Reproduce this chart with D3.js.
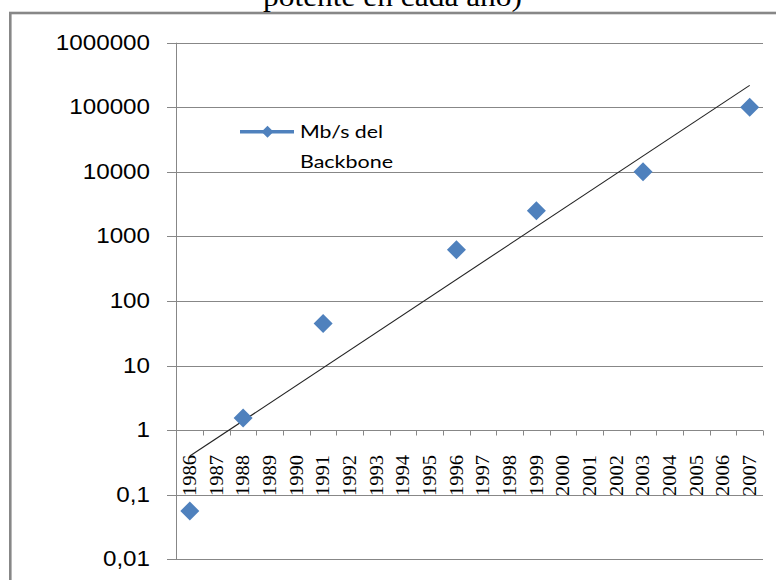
<!DOCTYPE html>
<html>
<head>
<meta charset="utf-8">
<script src="https://cdn.jsdelivr.net/npm/d3@7"></script>
<style>
  html, body { margin: 0; padding: 0; background: #fff; }
  svg { display: block; }
</style>
</head>
<body>
<svg id="chart" width="776" height="580"></svg>
<script>
// Backbone speed (Mb/s) by year; blank years have no measurement
const years = ["1986","1987","1988","1989","1990","1991","1992","1993","1994","1995","1996",
               "1997","1998","1999","2000","2001","2002","2003","2004","2005","2006","2007"];
const backboneMbps = [0.056, null, 1.544, null, null, 45, null, null, null, null, 622,
                      null, null, 2488, null, null, null, 10000, null, null, null, 100000];
const yTicks = [0.01, 0.1, 1, 10, 100, 1000, 10000, 100000, 1000000];
const yTickLabels = ["0,01", "0,1", "1", "10", "100", "1000", "10000", "100000", "1000000"];
const seriesName = ["Mb/s del", "Backbone"];
const titleTail = "potente en cada año)";

const svg = d3.select("#chart");
const gridColor = "#878787";
const blue = "#4F81BD";

const x = d3.scaleBand().domain(years).range([176.5, 763]);
const y = d3.scaleLog().domain([0.01, 1000000]).range([559.3, 42.7]);

// outer chart frame
svg.append("rect")
  .attr("x", 10.3).attr("y", 13).attr("width", 820).attr("height", 620)
  .attr("fill", "none").attr("stroke", gridColor).attr("stroke-width", 2.6);

// title (last line only)
svg.append("text")
  .attr("x", 263).attr("y", 5.5)
  .attr("font-family", "'Liberation Serif', 'Times New Roman', serif")
  .attr("font-size", 27)
  .attr("textLength", 259).attr("lengthAdjust", "spacingAndGlyphs")
  .attr("fill", "#000")
  .text(titleTail);

// horizontal gridlines + y ticks
const gy = svg.append("g");
yTicks.forEach((t, i) => {
  const yy = Math.round(y(t)) + 0.5;
  gy.append("line")
    .attr("x1", 167).attr("x2", 763).attr("y1", yy).attr("y2", yy)
    .attr("stroke", gridColor).attr("stroke-width", 1);
  gy.append("g")
    .attr("transform", `translate(150,${y(t) + 7}) scale(1.1,1)`)
    .append("text")
      .attr("text-anchor", "end")
      .attr("font-family", "'Liberation Sans', Arial, sans-serif")
      .attr("font-size", 22)
      .attr("fill", "#000")
      .text(yTickLabels[i]);
});

// vertical axis
svg.append("line")
  .attr("x1", 176.5).attr("x2", 176.5)
  .attr("y1", y(1000000)).attr("y2", y(0.01))
  .attr("stroke", gridColor).attr("stroke-width", 1);

// category axis crossing at 1
const axisY = Math.round(y(1)) + 0.5;
svg.append("g").selectAll("line")
  .data(years)
  .join("line")
    .attr("x1", d => Math.round(x(d) + x.bandwidth()) + 0.5)
    .attr("x2", d => Math.round(x(d) + x.bandwidth()) + 0.5)
    .attr("y1", axisY).attr("y2", axisY + 5)
    .attr("stroke", gridColor).attr("stroke-width", 1);

svg.append("g").selectAll("text")
  .data(years)
  .join("text")
    .attr("transform", d => `translate(${x(d) + x.bandwidth() / 2 + 6.2},496) rotate(-90)`)
    .attr("font-family", "'Liberation Serif', 'Times New Roman', serif")
    .attr("font-size", 19)
    .attr("textLength", 41).attr("lengthAdjust", "spacingAndGlyphs")
    .attr("fill", "#000")
    .text(d => d);

// exponential trendline: least squares on log10(value) vs category number
const pts = years.map((d, i) => ({ i: i + 1, v: backboneMbps[i] })).filter(p => p.v != null);
const mx = d3.mean(pts, p => p.i);
const my = d3.mean(pts, p => Math.log10(p.v));
const slope = d3.sum(pts, p => (p.i - mx) * (Math.log10(p.v) - my)) /
              d3.sum(pts, p => (p.i - mx) ** 2);
const trendAt = n => Math.pow(10, my + slope * (n - mx));
const trend = years.map((d, i) => ({ year: d, v: trendAt(i + 1) }));
svg.append("path")
  .datum([trend[0], trend[trend.length - 1]])
  .attr("d", d3.line().x(d => x(d.year) + x.bandwidth() / 2).y(d => y(d.v)))
  .attr("fill", "none").attr("stroke", "#222").attr("stroke-width", 1.1);

// diamond markers
const diamond = r => `M0,${-r}L${r},0L0,${r}L${-r},0Z`;
svg.append("g").selectAll("path")
  .data(years.map((d, i) => ({ year: d, v: backboneMbps[i] })).filter(d => d.v != null))
  .join("path")
    .attr("transform", d => `translate(${x(d.year) + x.bandwidth() / 2},${y(d.v)})`)
    .attr("d", diamond(9.5))
    .attr("fill", blue);

// legend
const lg = svg.append("g");
lg.append("line")
  .attr("x1", 240).attr("x2", 294).attr("y1", 131.7).attr("y2", 131.7)
  .attr("stroke", blue).attr("stroke-width", 3.5);
lg.append("path")
  .attr("transform", "translate(267.5,131.7)")
  .attr("d", diamond(6))
  .attr("fill", blue);
lg.append("text")
  .attr("x", 300).attr("y", 138.3)
  .attr("font-family", "Lato, 'Open Sans', sans-serif").attr("font-size", 18)
  .attr("textLength", 83).attr("lengthAdjust", "spacingAndGlyphs")
  .attr("fill", "#000")
  .text(seriesName[0]);
lg.append("text")
  .attr("x", 300).attr("y", 168.3)
  .attr("font-family", "Lato, 'Open Sans', sans-serif").attr("font-size", 18)
  .attr("textLength", 93).attr("lengthAdjust", "spacingAndGlyphs")
  .attr("fill", "#000")
  .text(seriesName[1]);
</script>
</body>
</html>
